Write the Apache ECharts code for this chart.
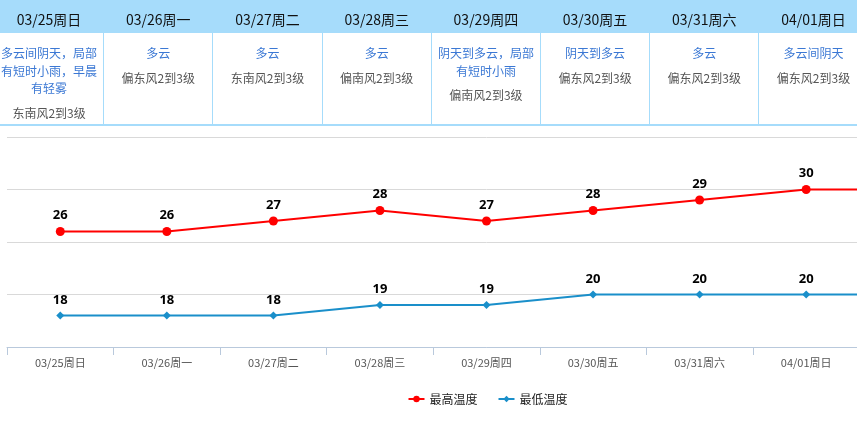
<!DOCTYPE html>
<html>
<head>
<meta charset="utf-8">
<script src="https://cdn.jsdelivr.net/npm/echarts@6/dist/echarts.min.js"></script>
<style>
  html, body { margin: 0; padding: 0; width: 857px; height: 428px; overflow: hidden; background: #fff; }
  body { font-family: "Noto Sans CJK SC", "Noto Sans", sans-serif; position: relative; }
  #chart { position: absolute; left: 0; top: 0; width: 975px; height: 428px; }
  #table { position: absolute; left: -5px; top: 0; width: 990px; height: 127px; z-index: 2; }
  .col { position: absolute; top: 0; width: 109.2px; height: 125px; box-sizing: border-box; text-align: center; }
  .col.sep { border-right: 1px solid #a6dcfb; }
  .date { height: 33px; background: #a6dcfb; box-sizing: border-box; padding-top: 6px; line-height: 27px; font-size: 14px; color: #111; }
  .wea { padding: 11px 5px 0 5px; font-size: 12px; line-height: 17.6px; color: #3b78d4; }
  .wind { padding: 0 3px; margin-top: 7px; font-size: 12px; line-height: 17.6px; color: #555; }
  #bline { position: absolute; left: 0; top: 124px; width: 990px; height: 2px; background: #a6dcfb; }
</style>
</head>
<body>
<div id="table"></div>
<div id="chart"></div>
<script>
var categories = ["03/25周日", "03/26周一", "03/27周二", "03/28周三", "03/29周四", "03/30周五", "03/31周六", "04/01周日", "04/02周一"];
var weather = ["多云间阴天，局部有短时小雨，早晨有轻雾", "多云", "多云", "多云", "阴天到多云，局部有短时小雨", "阴天到多云", "多云", "多云间阴天", "多云"];
var wind = ["东南风2到3级", "偏东风2到3级", "东南风2到3级", "偏南风2到3级", "偏南风2到3级", "偏东风2到3级", "偏东风2到3级", "偏东风2到3级", "偏东风2到3级"];
var highTemps = [26, 26, 27, 28, 27, 28, 29, 30, 30];
var lowTemps = [18, 18, 18, 19, 19, 20, 20, 20, 20];
var seriesNames = ["最高温度", "最低温度"];

// header table
var table = document.getElementById('table');
var colW = 109.2;
categories.forEach(function (c, i) {
  var d = document.createElement('div');
  d.className = 'col' + (i < categories.length - 1 ? ' sep' : '');
  d.style.left = (i * colW) + 'px';
  var h = document.createElement('div'); h.className = 'date'; h.textContent = c;
  var w = document.createElement('div'); w.className = 'wea'; w.textContent = weather[i];
  var n = document.createElement('div'); n.className = 'wind'; n.textContent = wind[i];
  d.appendChild(h); d.appendChild(w); d.appendChild(n);
  table.appendChild(d);
});
var bl = document.createElement('div'); bl.id = 'bline'; table.appendChild(bl);

var chart = echarts.init(document.getElementById('chart'), null, { renderer: 'canvas' });
var labelStyle = { show: true, position: 'top', distance: 5, color: '#000', fontWeight: 'bold', fontSize: 13, fontFamily: 'Noto Sans, sans-serif' };
chart.setOption({
  animation: false,
  textStyle: { fontFamily: '"Noto Sans CJK SC", sans-serif' },
  legend: {
    top: 388,
    left: 'center',
    itemWidth: 16,
    itemHeight: 8,
    itemGap: 20,
    textStyle: { fontSize: 12, color: '#222' },
    data: seriesNames
  },
  grid: { left: 7, top: 137, width: 959, height: 210 },
  xAxis: {
    type: 'category',
    data: categories,
    boundaryGap: true,
    axisLine: { lineStyle: { color: '#b9c9dc' } },
    axisTick: { show: true, interval: 0, length: 8, lineStyle: { color: '#b9c9dc' } },
    axisLabel: { color: '#555', fontSize: 11, margin: 10, interval: 0 }
  },
  yAxis: {
    type: 'value',
    min: 15, max: 35, interval: 5,
    axisLabel: { show: false },
    axisLine: { show: false },
    axisTick: { show: false },
    splitLine: { lineStyle: { color: '#d9d9d9' } }
  },
  series: [
    {
      name: seriesNames[0], type: 'line', data: highTemps,
      symbol: 'circle', symbolSize: 9,
      itemStyle: { color: '#ff0000' },
      lineStyle: { color: '#ff0000', width: 2 },
      label: labelStyle
    },
    {
      name: seriesNames[1], type: 'line', data: lowTemps,
      symbol: 'diamond', symbolSize: 8,
      itemStyle: { color: '#1a8fca' },
      lineStyle: { color: '#1a8fca', width: 2 },
      label: labelStyle
    }
  ]
});
</script>
</body>
</html>
